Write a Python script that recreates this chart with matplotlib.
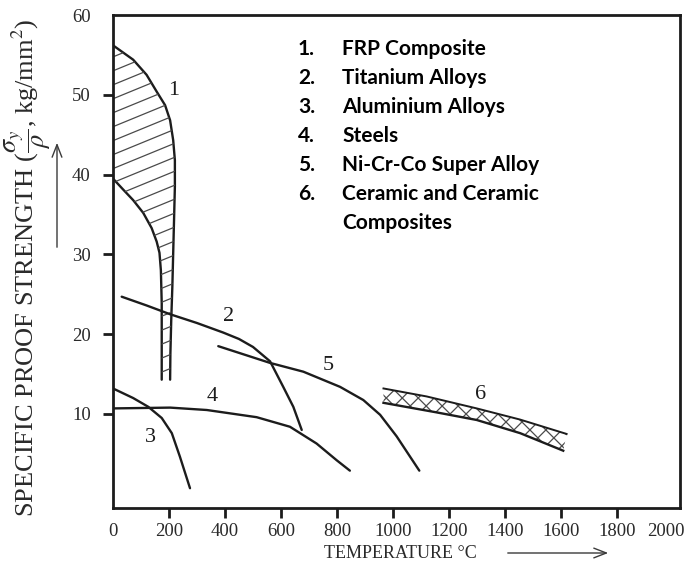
import numpy as np
import matplotlib
matplotlib.use("Agg")
import matplotlib.pyplot as plt
from matplotlib.patches import Polygon
from matplotlib.transforms import ScaledTranslation

plt.rcParams["font.family"] = ["Liberation Serif", "DejaVu Serif"]
plt.rcParams["mathtext.fontset"] = "stix"

INK = "#1c1c1c"
HATCH = "#4a4a4a"

# 1. FRP composite band (temperature in degC, strength in kg/mm^2)
frp_upper_t = [0, 72, 120, 156, 186, 204, 215, 221, 221, 218, 215, 212, 208, 205, 204]
frp_upper_s = [56.2, 54.4, 52.5, 50.4, 48.7, 46.8, 44.3, 41.8, 38.5, 34.3, 30.2, 26.0, 21.8, 17.6, 14.3]
frp_lower_t = [0, 37, 72, 108, 138, 156, 166, 171, 174, 174]
frp_lower_s = [39.5, 38.1, 36.8, 35.2, 33.3, 31.6, 30.2, 28.0, 23.9, 14.3]

# 2. Titanium alloys
ti_t = [31, 120, 204, 300, 394, 450, 500, 561, 608, 644, 674]
ti_s = [24.7, 23.6, 22.5, 21.4, 20.2, 19.4, 18.4, 16.6, 13.4, 10.9, 8.0]

# 3. Aluminium alloys
al_t = [0, 72, 126, 174, 210, 239, 275]
al_s = [13.2, 12.0, 10.9, 9.5, 7.6, 4.65, 0.7]

# 4. Steels
st_t = [0, 204, 335, 513, 632, 727, 799, 846]
st_s = [10.7, 10.8, 10.5, 9.6, 8.4, 6.3, 4.2, 2.9]

# 5. Ni-Cr-Co super alloy
ni_t = [376, 561, 680, 811, 894, 954, 1013, 1061, 1094]
ni_s = [18.5, 16.4, 15.3, 13.4, 11.75, 9.9, 7.2, 4.65, 2.9]

# 6. Ceramic and ceramic composites band
cer_upper_t = [966, 1120, 1299, 1454, 1620]
cer_upper_s = [13.2, 12.2, 10.7, 9.3, 7.5]
cer_lower_t = [966, 1156, 1299, 1454, 1608]
cer_lower_s = [11.4, 10.2, 9.25, 7.6, 5.4]

# curve number labels (x, y, text)
curve_labels = [(215, 50.6, "1"), (412, 22.2, "2"), (132, 7.0, "3"),
                (356, 12.2, "4"), (769, 16.1, "5"), (1311, 12.4, "6")]

legend_items = ["FRP Composite", "Titanium Alloys", "Aluminium Alloys", "Steels",
                "Ni-Cr-Co Super Alloy", "Ceramic and Ceramic", "Composites"]

x_ticks = list(range(0, 2001, 200))
y_ticks = [10, 20, 30, 40, 50, 60]

W, H = 689, 573
fig = plt.figure(figsize=(W / 100, H / 100), dpi=100)
ax = fig.add_axes([113 / W, 1 - 508 / H, (680 - 113) / W, (508 - 15) / H])
ax.set_xlim(0, 2025)
ax.set_ylim(-1.78, 60)


def band_clip(ut, us, lt, ls):
    xy = np.column_stack([list(ut) + list(lt)[::-1], list(us) + list(ls)[::-1]])
    p = Polygon(xy, closed=True, facecolor="none", edgecolor="none", transform=ax.transData)
    ax.add_patch(p)
    return p


lw = 1.7
# FRP band outline and shallow hatching
ax.plot(frp_upper_t, frp_upper_s, color=INK, lw=lw, solid_capstyle="round")
ax.plot(frp_lower_t, frp_lower_s, color=INK, lw=lw, solid_capstyle="round")
clip1 = band_clip(frp_upper_t, frp_upper_s, frp_lower_t, frp_lower_s)
xx = np.array([0, 260])
for c in np.arange(11.0, 60.0, 1.75):
    ln, = ax.plot(xx, c + 0.0144 * xx, color=HATCH, lw=0.9)
    ln.set_clip_path(clip1)

for t, s in [(ti_t, ti_s), (al_t, al_s), (st_t, st_s), (ni_t, ni_s)]:
    ax.plot(t, s, color=INK, lw=lw, solid_capstyle="round")

# Ceramic band with cross hatching
clip6 = band_clip(cer_upper_t, cer_upper_s, cer_lower_t, cer_lower_s)
k = 0.0351
span = np.array([0, 430])
for x0 in np.arange(520, 2150, 57):
    for sign in (1, -1):
        xs = x0 + span if sign > 0 else x0 - span
        ln, = ax.plot(xs, k * span, color=HATCH, lw=0.9)
        ln.set_clip_path(clip6)
ax.plot(cer_upper_t, cer_upper_s, color=INK, lw=1.4)
ax.plot(cer_lower_t, cer_lower_s, color=INK, lw=lw)

for x, y, txt in curve_labels:
    ax.text(x, y, txt, fontsize=16, color=INK, ha="center", va="center")

# axes styling
for sp in ax.spines.values():
    sp.set_linewidth(2.0)
    sp.set_color(INK)
ax.set_xticks(x_ticks)
ax.set_yticks(y_ticks)
ax.tick_params(axis="both", direction="out", length=7, width=2, color=INK,
               labelsize=13.5, labelcolor="#2a2a2a")
ax.tick_params(axis="x", pad=4)
ax.tick_params(axis="y", pad=9)
xt = ax.xaxis.get_major_ticks()
xt[0].tick1line.set_visible(False)
xt[-1].tick1line.set_visible(False)
last = xt[-1].label1
last.set_transform(last.get_transform() + ScaledTranslation(-0.07, 0, fig.dpi_scale_trans))
ax.yaxis.get_major_ticks()[-1].tick1line.set_visible(False)

# axis titles with direction arrows
fig.text(28 / W, 1 - 268 / H,
         r"SPECIFIC PROOF STRENGTH ($\dfrac{\sigma_y}{\rho}$, kg/mm$^2$)",
         rotation=90, ha="center", va="center", fontsize=19, color="#2a2a2a")
fig.text(400 / W, 1 - 553 / H, "TEMPERATURE °C", ha="center", va="center",
         fontsize=13, color="#2a2a2a")
arrow = dict(arrowstyle="->,head_length=0.9,head_width=0.35", color="#3a3a3a", lw=1.0)
ax.annotate("", xy=(57 / W, 1 - 140 / H), xytext=(57 / W, 1 - 250 / H),
            xycoords="figure fraction", textcoords="figure fraction", arrowprops=arrow)
ax.annotate("", xy=(611 / W, 1 - 553 / H), xytext=(505 / W, 1 - 553 / H),
            xycoords="figure fraction", textcoords="figure fraction", arrowprops=arrow)

# numbered material list
for i, item in enumerate(legend_items):
    y = 1 - (49.3 + 29.0 * i) / H
    if i < 6:
        fig.text(298 / W, y, f"{i + 1}.", fontsize=15, fontweight="bold",
                 family=["Lato", "DejaVu Sans"], ha="left", va="center", color="black")
    fig.text(342 / W, y, item, fontsize=15, fontweight="bold",
             family=["Lato", "DejaVu Sans"], ha="left", va="center", color="black")

fig.savefig("out.png", dpi=100)
